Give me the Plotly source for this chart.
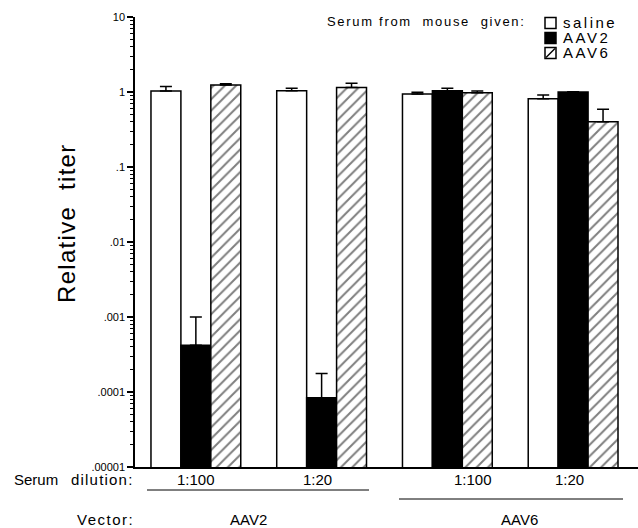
import plotly.graph_objects as go

groups = ["AAV2 1:100", "AAV2 1:20", "AAV6 1:100", "AAV6 1:20"]
dilution_labels = ["1:100", "1:20", "1:100", "1:20"]
dilution_pos = [0.0, 0.97, 2.2, 2.97]
vector_labels = ["AAV2", "AAV6"]
vector_pos = [0.42, 2.57]
series_names = ["saline", "AAV2", "AAV6"]

saline = [1.03, 1.04, 0.94, 0.81]
saline_err = [0.15, 0.08, 0.05, 0.10]
aav2 = [4.2e-4, 8.4e-5, 1.04, 1.0]
aav2_err = [5.8e-4, 9.3e-5, 0.08, 0.01]
aav6 = [1.24, 1.15, 0.98, 0.40]
aav6_err = [0.05, 0.16, 0.05, 0.19]

tick_vals = [1e-5, 1e-4, 1e-3, 1e-2, 1e-1, 1, 10]
tick_text = [".00001", ".0001", ".001", ".01", ".1", "1", "10"]
minor_vals = [m * 10 ** e for e in range(-5, 1) for m in range(2, 10)]

xpos = list(range(len(groups)))
FONT = "Liberation Sans, Arial, Helvetica, sans-serif"

def err(arr):
    return dict(type="data", array=arr, arrayminus=[0] * len(arr), symmetric=False,
                color="black", thickness=1.5, width=6)

def spaced(text, ls):
    return '<span style="letter-spacing:%spx">%s</span>' % (ls, text)

fig = go.Figure()
fig.add_trace(go.Bar(x=xpos, y=saline, name=series_names[0], error_y=err(saline_err),
                     marker=dict(color="white", line=dict(color="black", width=1.5))))
fig.add_trace(go.Bar(x=xpos, y=aav2, name=series_names[1], error_y=err(aav2_err),
                     marker=dict(color="black", line=dict(color="black", width=1.5))))
fig.add_trace(go.Bar(x=xpos, y=aav6, name=series_names[2], error_y=err(aav6_err),
                     marker=dict(color="white", line=dict(color="black", width=1.5),
                                 pattern=dict(shape="/", fgcolor="black", bgcolor="white",
                                              size=8, solidity=0.25))))

W, H = 638, 528
L, R, T, B = 135, 0, 17, 61
pw, ph = W - L - R, H - T - B

def px(x):
    return (x - L) / pw

def py(y):
    return (H - B - y) / ph

annotations = []
for lab, pos in zip(dilution_labels, dilution_pos):
    annotations.append(dict(x=pos, xref="x", y=py(479), yref="paper", text=lab,
                            showarrow=False, font=dict(size=15), yanchor="middle"))
for lab, pos in zip(vector_labels, vector_pos):
    annotations.append(dict(x=pos, xref="x", y=py(519), yref="paper", text=lab,
                            showarrow=False, font=dict(size=15), yanchor="middle"))
annotations.append(dict(x=px(12), xref="paper", y=py(479), yref="paper",
                        text="Serum", showarrow=False,
                        xanchor="left", yanchor="middle", font=dict(size=15)))
annotations.append(dict(x=px(136), xref="paper", y=py(479), yref="paper",
                        text=spaced("dilution:", 1.2), showarrow=False,
                        xanchor="right", yanchor="middle", font=dict(size=15)))
annotations.append(dict(x=px(136), xref="paper", y=py(519), yref="paper",
                        text=spaced("Vector:", 1.5), showarrow=False,
                        xanchor="right", yanchor="middle", font=dict(size=15)))
annotations.append(dict(x=px(67), xref="paper", y=py(223), yref="paper",
                        text=spaced("Relative&nbsp;&nbsp;titer", 1.3), showarrow=False,
                        textangle=-90, xanchor="center", yanchor="middle",
                        font=dict(size=24)))

# manual legend (title + entries)
annotations.append(dict(x=px(528), xref="paper", y=py(22), yref="paper",
                        text=spaced("Serum&nbsp;from&nbsp;&nbsp;mouse&nbsp;&nbsp;given:", 1.7),
                        showarrow=False, xanchor="right", yanchor="middle",
                        font=dict(size=13)))
leg_rows = [23, 38, 53]
for name, ry in zip(series_names, leg_rows):
    annotations.append(dict(x=px(561), xref="paper", y=py(ry), yref="paper",
                            text=spaced(name, 2.5),
                            showarrow=False, xanchor="left", yanchor="middle",
                            font=dict(size=15)))

shapes = [
    dict(type="line", xref="paper", yref="paper", x0=px(147), x1=px(369),
         y0=py(490), y1=py(490), line=dict(color="black", width=1)),
    dict(type="line", xref="paper", yref="paper", x0=px(399), x1=px(623),
         y0=py(499), y1=py(499), line=dict(color="black", width=1)),
]
fills = ["white", "black", "white"]
for fill, ry in zip(fills, leg_rows):
    shapes.append(dict(type="rect", xref="paper", yref="paper",
                       x0=px(545), x1=px(556), y0=py(ry + 5.5), y1=py(ry - 5.5),
                       fillcolor=fill, line=dict(color="black", width=1.5)))
shapes.append(dict(type="line", xref="paper", yref="paper",
                   x0=px(546), x1=px(555), y0=py(leg_rows[2] + 4.5), y1=py(leg_rows[2] - 4.5),
                   line=dict(color="black", width=1.5)))

fig.update_layout(
    width=W, height=H,
    margin=dict(l=L, r=R, t=T, b=B, autoexpand=False),
    paper_bgcolor="white", plot_bgcolor="white",
    font=dict(family=FONT, color="black", size=13),
    barmode="group", bargap=0.286, bargroupgap=0,
    showlegend=False,
    xaxis=dict(range=[-0.484, 3.516], showticklabels=False, ticks="",
               showline=True, linecolor="black", linewidth=1.5, showgrid=False, zeroline=False),
    yaxis=dict(type="log", range=[-5, 1], tickvals=tick_vals, ticktext=tick_text,
               ticks="outside", ticklen=6, tickwidth=1.5, tickcolor="black",
               showline=True, linecolor="black", linewidth=1.5, showgrid=False, zeroline=False,
               tickfont=dict(size=11),
               minor=dict(tickvals=minor_vals, ticks="outside", ticklen=3, tickwidth=1,
                          tickcolor="black", showgrid=False)),
    annotations=annotations,
    shapes=shapes,
)

fig.write_html(
    "out.html",
    config={"displayModeBar": False},
    post_script="document.body.style.margin='0';document.documentElement.style.overflow='hidden';document.body.style.overflow='hidden';",
)
